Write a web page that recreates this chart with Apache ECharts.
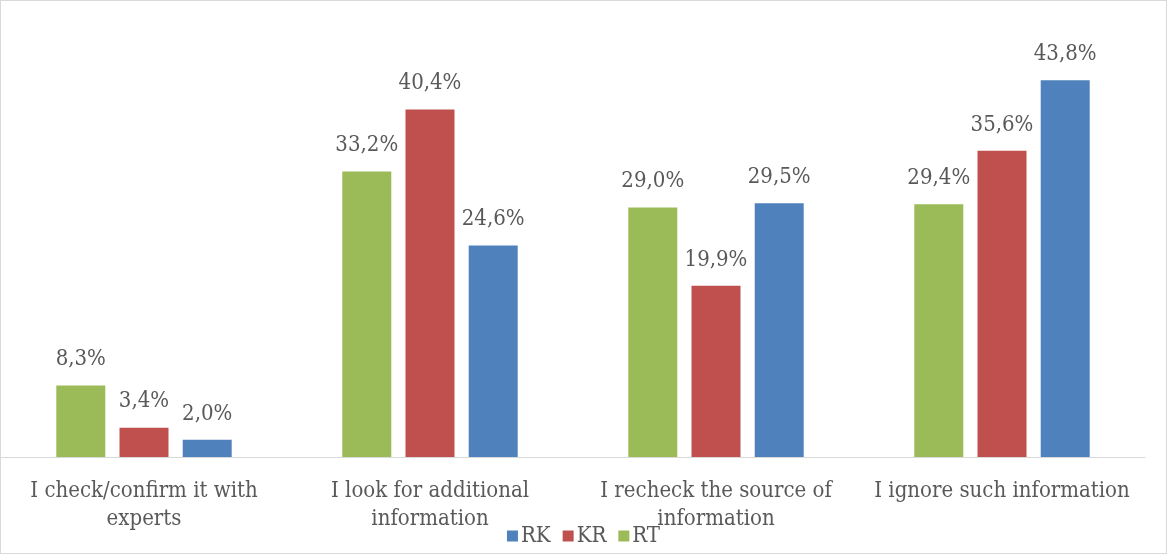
<!DOCTYPE html>
<html><head><meta charset="utf-8">
<script src="https://cdn.jsdelivr.net/npm/echarts@6/dist/echarts.min.js"></script>
<style>
html,body{margin:0;padding:0;background:#fff;}
#c{width:1165px;height:552px;border:1px solid #d9d9d9;}
</style></head>
<body><div id="c"></div>
<script>
var categories = ['I check/confirm it with\nexperts', 'I look for additional\ninformation', 'I recheck the source of\ninformation', 'I ignore such information'];
var seriesNames = ['RT', 'KR', 'RK'];
var RT = [8.3, 33.2, 29.0, 29.4];
var KR = [3.4, 40.4, 19.9, 35.6];
var RK = [2.0, 24.6, 29.5, 43.8];
var colors = {RT: '#9bbb59', KR: '#c0504d', RK: '#4f81bd'};
var font = 'DejaVu Serif Condensed';
var chart = echarts.init(document.getElementById('c'));
function mk(name, data) {
  return {
    name: name, type: 'bar', data: data, barWidth: 49, barGap: '29%',
    itemStyle: {color: colors[name]},
    label: {show: true, position: 'top', distance: 15, color: '#595959', fontFamily: font, fontSize: 22,
      formatter: function (p) { return p.value.toFixed(1).replace('.', ',') + '%'; }}
  };
}
chart.setOption({
  animation: false,
  textStyle: {fontFamily: font},
  grid: {left: 0, right: 21, top: 26, bottom: 96, containLabel: false},
  legend: {
    data: ['RK', 'KR', 'RT'], bottom: 1, left: 'center', itemWidth: 11, itemHeight: 11, itemGap: 12,
    icon: 'rect', textStyle: {color: '#595959', fontFamily: font, fontSize: 22, padding: [0, 0, 0, -2]}
  },
  xAxis: {
    type: 'category', data: categories,
    axisLine: {lineStyle: {color: '#d9d9d9', width: 1}},
    axisTick: {show: false},
    axisLabel: {color: '#595959', fontFamily: font, fontSize: 22, lineHeight: 28, margin: 20, interval: 0}
  },
  yAxis: {type: 'value', min: 0, max: 50, show: false, splitLine: {show: false}},
  series: [mk('RT', RT), mk('KR', KR), mk('RK', RK)]
});
</script></body></html>
